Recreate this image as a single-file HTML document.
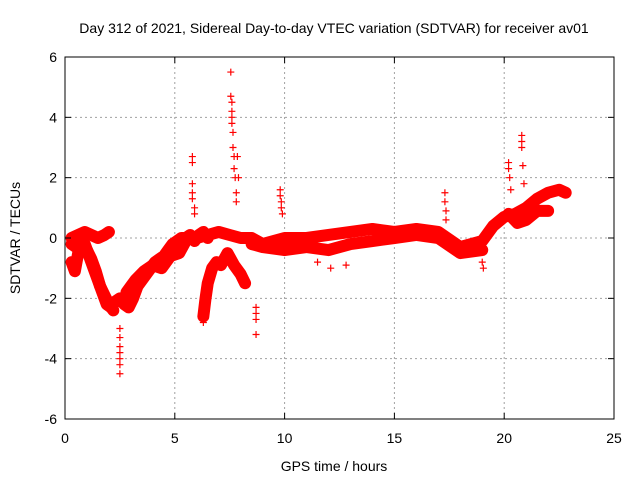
<!DOCTYPE html>
<html><head><meta charset="utf-8"><style>
body{margin:0;background:#fff}
svg text{font-family:"Liberation Sans",sans-serif;font-size:14px;fill:#000}
</style></head><body>
<svg id="c" width="640" height="480">
<text x="334" y="33" text-anchor="middle">Day 312 of 2021, Sidereal Day-to-day VTEC variation (SDTVAR) for receiver av01</text>
<text x="334" y="471" text-anchor="middle">GPS time / hours</text>
<text transform="translate(20,238) rotate(-90)" text-anchor="middle">SDTVAR / TECUs</text>
<g id="grid"></g><g id="data"></g><g id="axes"></g>
</svg>
<script>
const xTicks=[0,5,10,15,20,25];
const yTicks=[-6,-4,-2,0,2,4,6];
const traceAT=[0.3,0.5,0.7,0.9,1.1,1.3,1.5,1.7,1.9,2.1,2.3,2.5,2.7,2.9,3.1,3.3,3.5,3.7,3.9,4.1,4.3,4.5,4.7,4.9,5.1,5.3,5.5,5.7,5.9,6.1,6.3,6.5];
const traceAV=[-0.2,-0.3,-0.1,-0.2,-0.6,-1.0,-1.4,-1.8,-2.2,-2.3,-2.1,-2.0,-2.2,-2.3,-2.0,-1.6,-1.4,-1.2,-1.0,-0.8,-0.7,-0.6,-0.4,-0.2,-0.1,0.0,0.0,0.1,-0.1,0.1,0.2,0.0];
const traceBT=[0.3,0.6,0.9,1.2,1.5,1.8,2.0];
const traceBV=[0.0,0.1,0.2,0.1,0.0,0.1,0.2];
const traceCT=[0.3,0.45,0.6,0.8,1.0,1.2,1.4,1.6,1.8,2.0,2.2];
const traceCV=[-0.8,-1.1,-0.5,-0.3,-0.4,-0.7,-1.1,-1.6,-1.9,-2.2,-2.4];
const traceDT=[2.8,3.2,3.6,4.0,4.4,4.8,5.2,5.5];
const traceDV=[-1.8,-1.4,-1.1,-0.9,-1.0,-0.6,-0.5,-0.1];
const traceET=[6.3,6.4,6.5,6.7,6.9,7.1,7.4,7.7,8.0,8.2];
const traceEV=[-2.6,-2.0,-1.5,-1.0,-0.8,-0.9,-0.5,-0.9,-1.2,-1.5];
const traceFT=[6.0,6.5,7.0,7.5,8.0,8.5,9.0,9.5,10,11,12,13,14,15,16,17,18,19,19.5,20,20.5,21,21.5,22,22.5,22.8];
const traceFV=[0.0,0.1,0.2,0.1,0.0,0.0,-0.2,-0.1,0.0,0.0,0.1,0.2,0.3,0.2,0.3,0.2,-0.3,-0.1,0.4,0.7,0.8,1.0,1.3,1.5,1.6,1.5];
const traceGT=[8.5,9,10,11,12,13,14,15,16,17,18,19];
const traceGV=[-0.2,-0.3,-0.4,-0.3,-0.4,-0.2,-0.1,0.0,0.1,0.0,-0.5,-0.4];
const traceHT=[20.2,20.6,21.0,21.5,22.0];
const traceHV=[0.8,0.5,0.6,0.9,0.9];
const spikeT=[2.5,2.5,2.5,2.5,2.5,2.5,2.5,5.8,5.8,5.8,5.8,5.8,5.9,5.9,7.55,7.55,7.6,7.6,7.6,7.6,7.65,7.65,7.7,7.7,7.75,7.8,7.8,7.85,7.9,8.7,8.7,8.7,8.7,9.8,9.8,9.85,9.85,9.9,17.3,17.3,17.35,17.35,20.2,20.2,20.25,20.3,20.8,20.8,20.8,20.85,20.9,6.3,6.35,11.5,12.1,12.8,19.0,19.05];
const spikeV=[-3.0,-3.3,-3.6,-3.8,-4.0,-4.2,-4.5,2.7,2.5,1.8,1.5,1.3,1.0,0.8,5.5,4.7,4.5,4.2,4.0,3.8,3.5,3.0,2.7,2.3,2.0,1.5,1.2,2.7,2.0,-2.3,-2.5,-2.7,-3.2,1.6,1.4,1.2,1.0,0.8,1.5,1.2,0.9,0.6,2.5,2.3,2.0,1.6,3.4,3.2,3.0,2.4,1.8,-2.8,-2.7,-0.8,-1.0,-0.9,-0.8,-1.0];
const NS="http://www.w3.org/2000/svg";
const X0=65,X1=614,Y0=419,Y1=57;
const xs=t=>X0+(t-0)/25*(X1-X0);
const ys=v=>Y0-(v+6)/12*(Y0-Y1);
function mk(tag,at,parent){const e=document.createElementNS(NS,tag);for(const k in at)e.setAttribute(k,at[k]);parent.appendChild(e);return e;}
const grid=document.getElementById('grid'),axes=document.getElementById('axes'),data=document.getElementById('data');
xTicks.forEach(t=>{const x=xs(t);
 if(t>0&&t<25){const g=mk('line',{x1:x,x2:x,y1:Y1,y2:Y0,stroke:'#a0a0a0','stroke-dasharray':'2,3'},grid);
 
 }
 mk('line',{x1:x,x2:x,y1:Y0,y2:Y0-6,stroke:'#000'},axes);mk('line',{x1:x,x2:x,y1:Y1,y2:Y1+6,stroke:'#000'},axes);
 const l=mk('text',{x:x,y:Y0+24,'text-anchor':'middle'},axes);l.textContent=t;
 
 });
yTicks.forEach(v=>{const y=ys(v);
 if(v>-6&&v<6){const g=mk('line',{x1:X0,x2:X1,y1:y,y2:y,stroke:'#a0a0a0','stroke-dasharray':'2,3'},grid);
 
 }
 mk('line',{x1:X0,x2:X0+6,y1:y,y2:y,stroke:'#000'},axes);mk('line',{x1:X1,x2:X1-6,y1:y,y2:y,stroke:'#000'},axes);
 const l=mk('text',{x:X0-8,y:y+5,'text-anchor':'end'},axes);l.textContent=v;
 
 });
const frame=mk('rect',{x:X0,y:Y1,width:X1-X0,height:Y0-Y1,fill:'none',stroke:'#000'},axes);


function plus(t,v){const x=xs(t),y=ys(v);return `M${x-3.5},${y}h7M${x},${y-3.5}v7`;}
[[traceAT,traceAV],[traceBT,traceBV],[traceCT,traceCV],[traceDT,traceDV],[traceET,traceEV],[traceFT,traceFV],[traceGT,traceGV],[traceHT,traceHV]].forEach(([T,V])=>{
 const p=mk('polyline',{points:T.map((t,i)=>xs(t)+','+ys(V[i])).join(' '),fill:'none',stroke:'#ff0000','stroke-width':12,'stroke-linejoin':'round','stroke-linecap':'round'},data);
 
 
 const m=mk('path',{d:T.map((t,i)=>plus(t,V[i])).join(''),stroke:'#ff0000','stroke-width':1.2,fill:'none'},data);
 
 
});
const sp=mk('path',{d:spikeT.map((t,i)=>plus(t,spikeV[i])).join(''),stroke:'#ff0000','stroke-width':1.2,fill:'none'},data);


</script>
</body></html>
